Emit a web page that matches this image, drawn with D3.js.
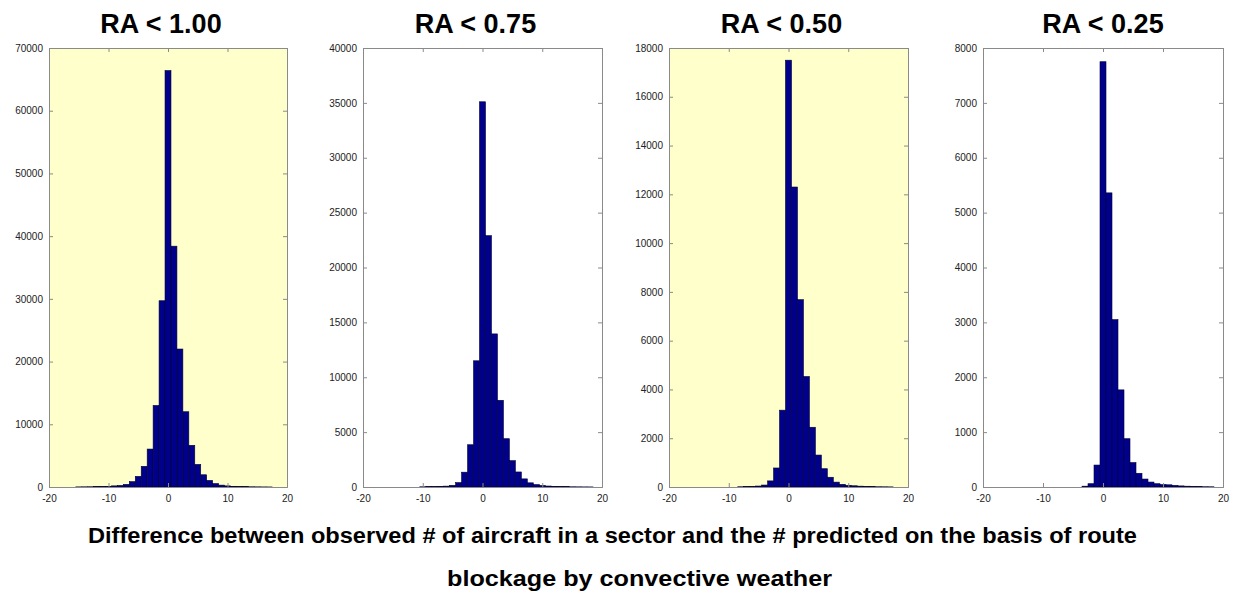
<!DOCTYPE html>
<html>
<head>
<meta charset="utf-8">
<script src="https://cdn.jsdelivr.net/npm/d3@7"></script>
<style>
  body { margin: 0; background: #fff; }
  svg { display: block; font-family: "Liberation Sans", Arial, sans-serif; }
</style>
</head>
<body>
<div id="grafica"></div>
<script>
  const width = 1241, height = 596;

  // bin centres (difference in aircraft count)
  const bins = [-15, -14, -13, -12, -11, -10, -9, -8, -7, -6, -5, -4, -3, -2, -1, 0,
    1, 2, 3, 4, 5, 6, 7, 8, 9, 10, 11, 12, 13, 14, 15, 16, 17, 18];

  // counts per bin
  const ra100 = [20, 30, 40, 60, 80, 100, 180, 250, 420, 850, 1700, 3300, 6050, 13000, 29700, 66400,
    38400, 22000, 12000, 6650, 3600, 1950, 1050, 550, 300, 180, 110, 70, 50, 35, 25, 15, 10, 0];
  const ra075 = [0, 0, 0, 0, 0, 20, 30, 40, 60, 80, 150, 400, 1350, 3850, 11500, 35100,
    22900, 13950, 7900, 4400, 2400, 1370, 740, 380, 220, 140, 90, 60, 40, 30, 20, 15, 10, 8];
  const ra050 = [0, 0, 0, 0, 0, 0, 0, 10, 15, 25, 40, 80, 250, 780, 3150, 17500,
    12300, 7680, 4530, 2450, 1310, 750, 400, 200, 110, 70, 50, 35, 25, 15, 10, 8, 5, 0];
  const ra025 = [0, 0, 0, 0, 0, 0, 0, 0, 0, 0, 0, 0, 15, 60, 400, 7750,
    5360, 3050, 1770, 880, 445, 250, 145, 90, 60, 45, 40, 30, 20, 15, 10, 8, 5, 4];

  const titulos = ["RA < 1.00", "RA < 0.75", "RA < 0.50", "RA < 0.25"];
  const maximos = [70000, 40000, 18000, 8000];
  const pasos = [10000, 5000, 2000, 1000];
  const xTicks = [-20, -10, 0, 10, 20];
  const pieLinea1 = "Difference between observed # of aircraft in a sector and the # predicted on the basis of route";
  const pieLinea2 = "blockage by convective weather";

  const series = [ra100, ra075, ra050, ra025];
  const fondos = ["#ffffcc", "#ffffff", "#ffffcc", "#ffffff"];
  const cajas = [
    { x0: 49, x1: 287 },
    { x0: 363, x1: 602 },
    { x0: 669, x1: 908 },
    { x0: 983, x1: 1223 }
  ];
  const arriba = 48, abajo = 487;
  const gris = "#8a8a8a";

  const svg = d3.select("#grafica")
    .append("svg")
    .attr("width", width)
    .attr("height", height);

  series.forEach((valores, i) => {
    const caja = cajas[i];
    const x = d3.scaleLinear().domain([-20, 20]).range([caja.x0, caja.x1]);
    const y = d3.scaleLinear().domain([0, maximos[i]]).range([abajo, arriba]);
    const yTicks = d3.range(0, maximos[i] + 1, pasos[i]);

    const g = svg.append("g");

    // fondo del eje
    g.append("rect")
      .attr("x", caja.x0)
      .attr("y", arriba)
      .attr("width", caja.x1 - caja.x0)
      .attr("height", abajo - arriba)
      .attr("fill", fondos[i]);

    // barras
    g.selectAll("rect.barra")
      .data(bins.map((b, k) => ({ b, v: valores[k] })).filter(d => d.v > 0))
      .enter()
      .append("rect")
      .attr("class", "barra")
      .attr("x", d => x(d.b - 0.5))
      .attr("width", d => x(d.b + 0.5) - x(d.b - 0.5))
      .attr("y", d => y(d.v))
      .attr("height", d => abajo - y(d.v))
      .attr("fill", "#00008a")
      .attr("stroke", "#000033")
      .attr("stroke-width", 0.6);

    // ejes estilo matlab: ticks hacia dentro en los cuatro lados
    g.append("g")
      .attr("transform", `translate(0,${abajo})`)
      .call(d3.axisBottom(x).tickValues(xTicks).tickSize(-4).tickPadding(8).tickFormat(d => String(d)));
    g.append("g")
      .attr("transform", `translate(0,${arriba})`)
      .call(d3.axisTop(x).tickValues(xTicks).tickSize(-4).tickFormat(""));
    g.append("g")
      .attr("transform", `translate(${caja.x0},0)`)
      .call(d3.axisLeft(y).tickValues(yTicks).tickSize(-4).tickPadding(6).tickFormat(d => String(d)));
    g.append("g")
      .attr("transform", `translate(${caja.x1},0)`)
      .call(d3.axisRight(y).tickValues(yTicks).tickSize(-4).tickFormat(""));

    g.selectAll(".domain").attr("stroke", gris);
    g.selectAll(".tick line").attr("stroke", gris);
    g.selectAll(".tick text")
      .attr("fill", "#222")
      .style("font-size", "10px")
      .style("font-family", "Liberation Sans, Arial, sans-serif");

    // titulo
    svg.append("text")
      .attr("x", (caja.x0 + caja.x1) / 2 - (i < 3 ? 7 : 0))
      .attr("y", 33)
      .attr("text-anchor", "middle")
      .attr("font-weight", "bold")
      .attr("font-size", 27)
      .attr("fill", "#000")
      .text(titulos[i]);
  });

  // pie de figura
  svg.append("text")
    .attr("x", 88)
    .attr("y", 543)
    .attr("font-weight", "bold")
    .attr("font-size", 22)
    .attr("textLength", 1049)
    .attr("lengthAdjust", "spacingAndGlyphs")
    .attr("fill", "#000")
    .text(pieLinea1);

  svg.append("text")
    .attr("x", 447)
    .attr("y", 586)
    .attr("font-weight", "bold")
    .attr("font-size", 22)
    .attr("textLength", 385)
    .attr("lengthAdjust", "spacingAndGlyphs")
    .attr("fill", "#000")
    .text(pieLinea2);
</script>
</body>
</html>
